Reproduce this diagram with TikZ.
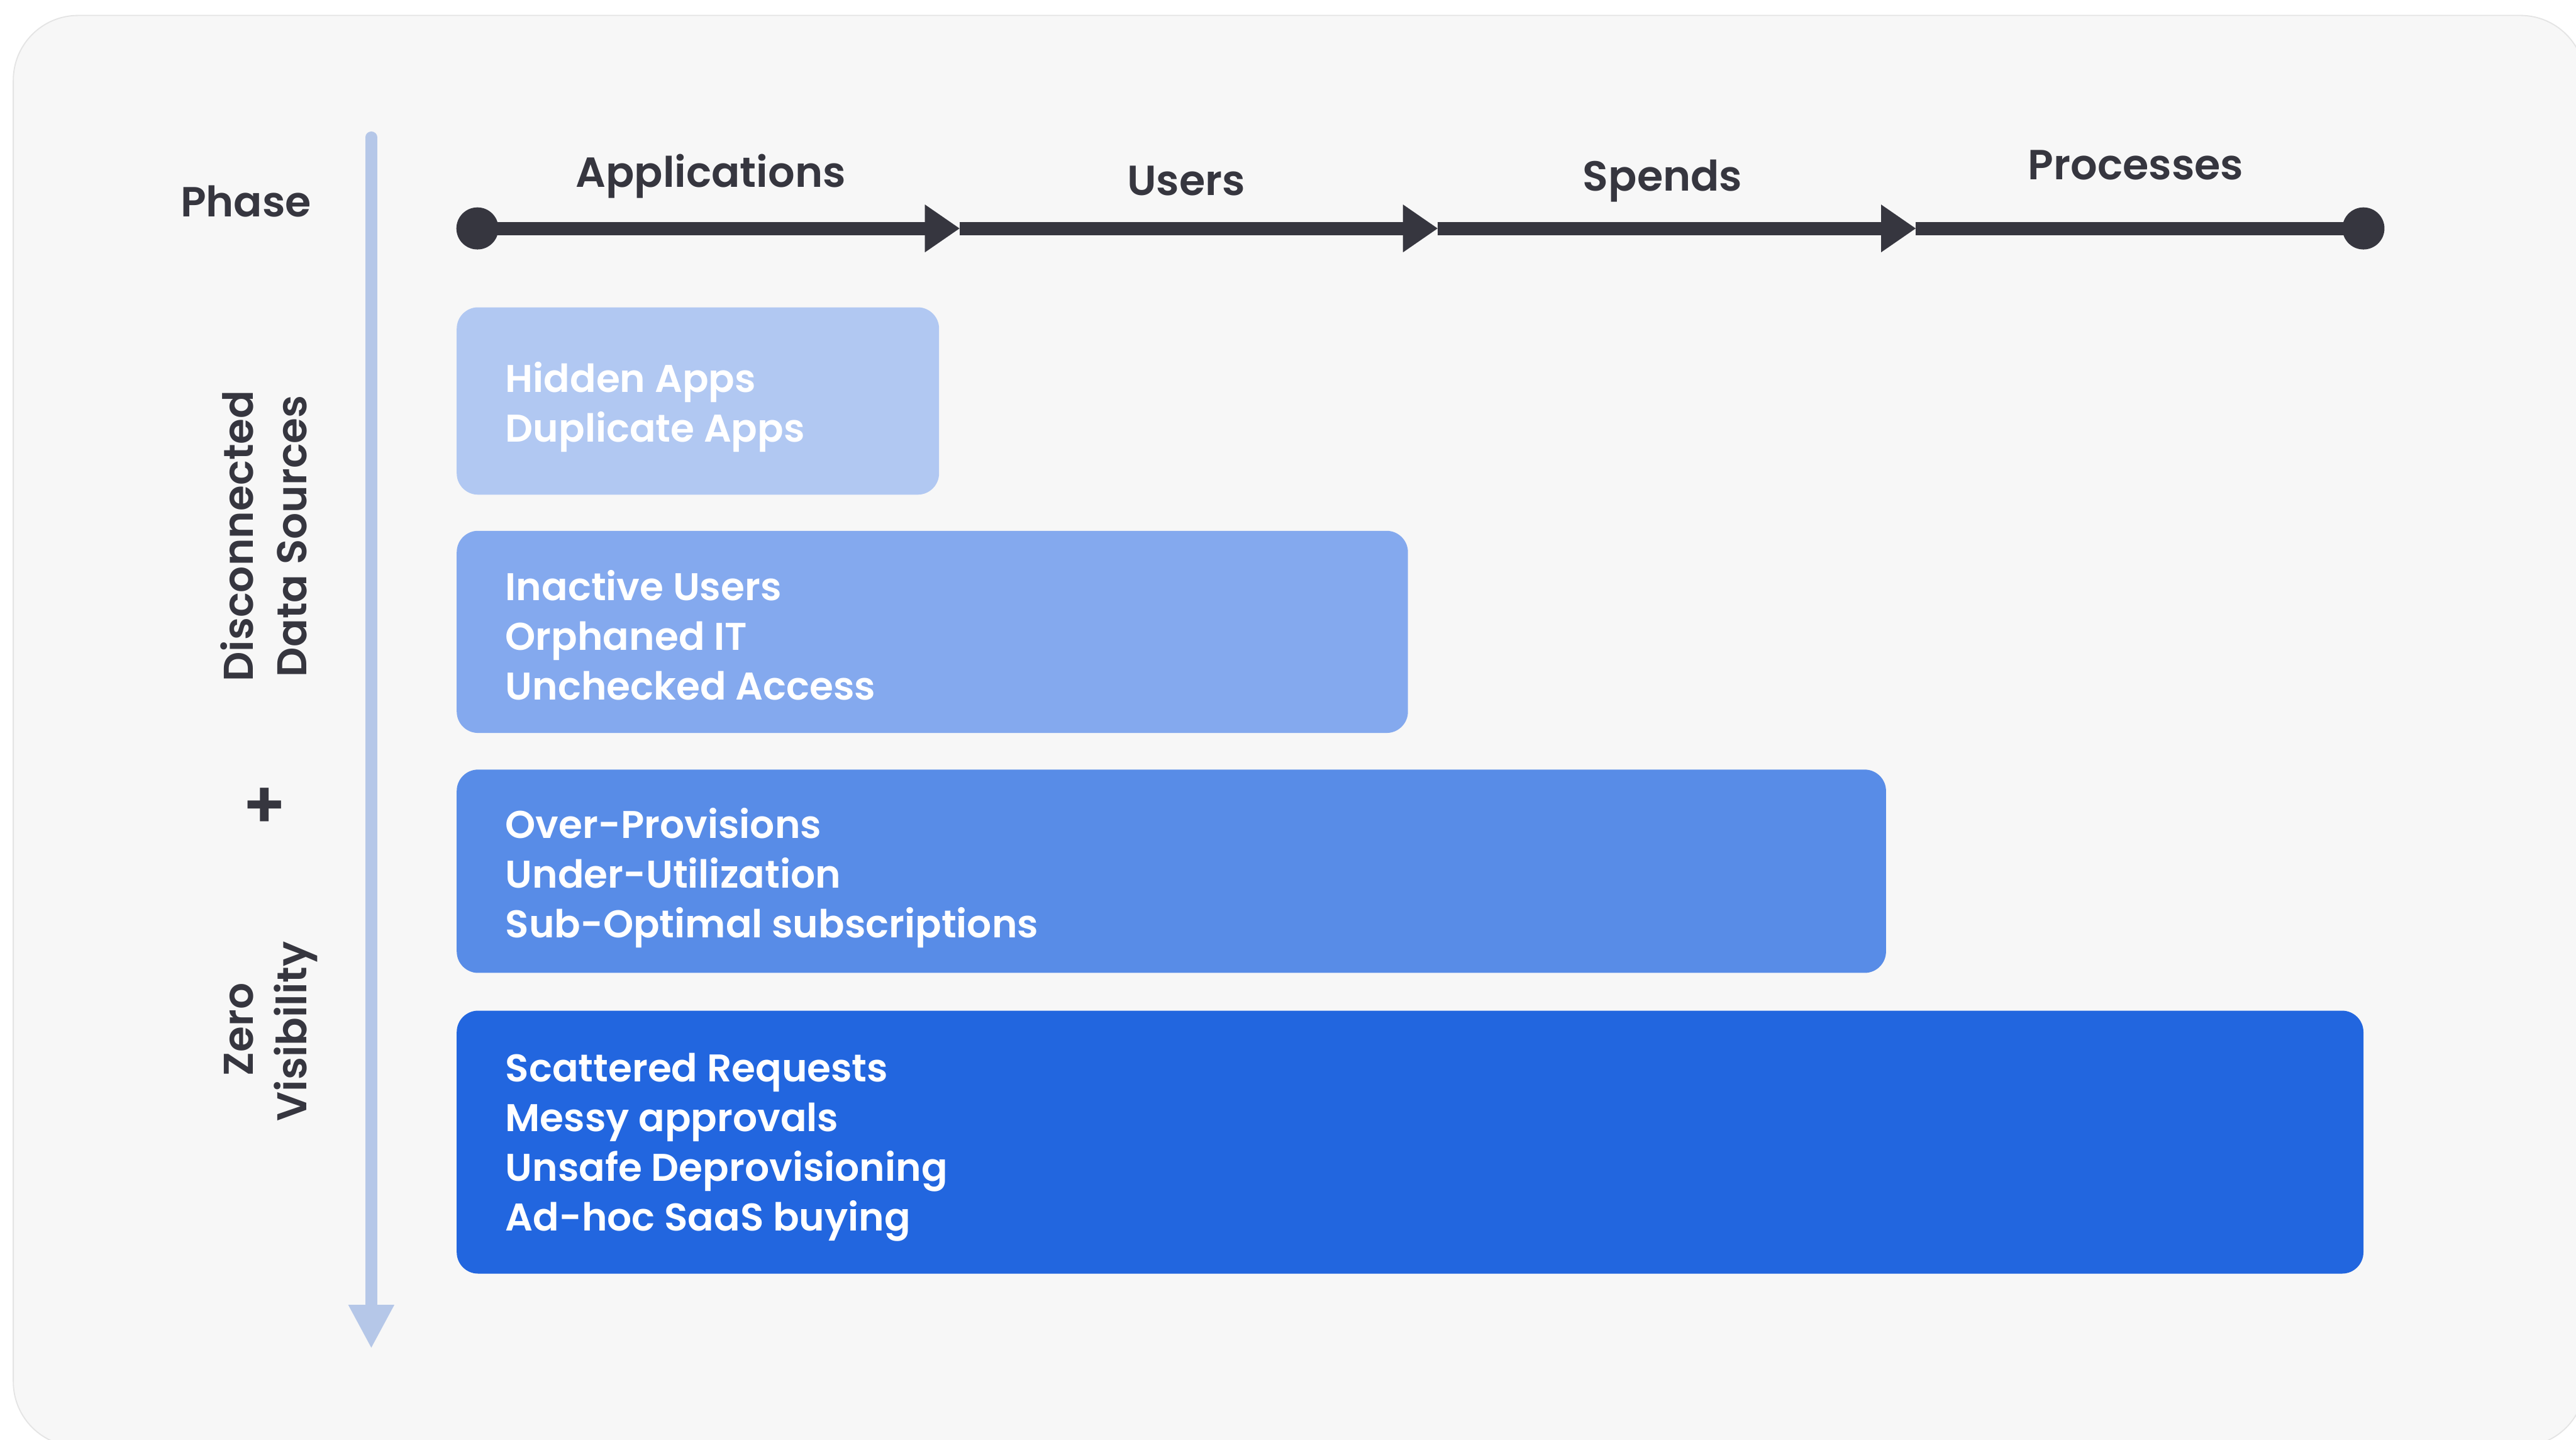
\documentclass[tikz,border=0pt]{standalone}
\usepackage{fontspec}
\setmainfont{Poppins}[BoldFont={Poppins SemiBold}]
\usetikzlibrary{arrows.meta}

\definecolor{ink}{HTML}{36363F}
\definecolor{panelfill}{HTML}{F7F7F7}
\definecolor{panelline}{HTML}{E4E4E4}
\definecolor{axisblue}{HTML}{B5C7E8}
\definecolor{tierA}{HTML}{B1C8F2}
\definecolor{tierB}{HTML}{84A9EE}
\definecolor{tierC}{HTML}{588CE7}
\definecolor{tierD}{HTML}{2266DF}

\tikzset{
  panel/.style={fill=panelfill, draw=panelline, line width=0.7pt, rounded corners=39.4pt},
  head/.style={font=\fontsize{25.6}{30}\selectfont\bfseries, text=ink, anchor=base, inner sep=0pt},
  sidelabel/.style={font=\fontsize{25.3}{30}\selectfont\bfseries, text=ink, anchor=base, inner sep=0pt, rotate=90},
  plussign/.style={font=\fontsize{40}{42}\selectfont\bfseries, text=ink, inner sep=0pt},
  dot/.style={circle, fill=ink, minimum size=25.6pt, inner sep=0pt},
  tline/.style={draw=ink, line width=8pt},
  stage/.style={-{Triangle[length=21pt,width=29pt,line width=0.01pt]}},
  axis/.style={draw=axisblue, line width=7pt, line cap=round,
    -{Triangle[length=26pt,width=28pt,line width=0.01pt]}},
  tier/.style={rectangle, rounded corners=13pt, draw=none, inner sep=0pt},
  item/.style={font=\fontsize{23.5}{30}\selectfont\bfseries, text=white, anchor=base west, inner sep=0pt},
}

\begin{document}
\begin{tikzpicture}[x=1pt,y=-1pt]
\useasboundingbox (0,0) rectangle (1568,876);

% card background
\begin{scope}
  \clip (0,0) rectangle (1568,876);
  \fill[white] (0,0) rectangle (1568,876);
  \draw[panel] (8.1,9.4) rectangle (1573.6,880.2);
\end{scope}

% vertical axis
\coordinate (vtop) at (226,83.5);
\coordinate (vbot) at (226,820);
\draw[axis] (vtop) -- (vbot);

% side labels
\node[sidelabel] (dis1) at (154,326.2) {Disconnected};
\node[sidelabel] (dis2) at (186.8,326.2) {Data Sources};
\node[plussign] (plus) at (161,491.7) {+};
\node[sidelabel] (zero1) at (154,626.5) {Zero};
\node[sidelabel] (zero2) at (186.8,627.6) {Visibility};

% phase header
\node[head] (phase) at (149.7,131.8) {Phase};
\node[head] (happ) at (432.6,113.7) {Applications};
\node[head] (husr) at (722,119) {Users};
\node[head] (hspd) at (1012,116.3) {Spends};
\node[head] (hprc) at (1300,109.3) {Processes};

% timeline
\node[dot] (t0) at (290.6,139) {};
\node[dot] (t4) at (1438.6,139) {};
\coordinate (m1) at (584,139);
\coordinate (m2) at (875,139);
\coordinate (m3) at (1166,139);
\draw[tline,stage] (t0.center) -- (m1);
\draw[tline,stage] (m1) -- (m2);
\draw[tline,stage] (m2) -- (m3);
\draw[tline] (m3) -- (t4.center);

% tiers
\node[tier, fill=tierA, minimum width=293.6pt, minimum height=114pt] (box1) at (424.8,244) {};
\node[tier, fill=tierB, minimum width=579pt, minimum height=123pt] (box2) at (567.5,384.5) {};
\node[tier, fill=tierC, minimum width=870pt, minimum height=123.7pt] (box3) at (713,530.15) {};
\node[tier, fill=tierD, minimum width=1160.6pt, minimum height=160pt] (box4) at (858.3,695) {};

\node[item] (b1a) at (307.5,238.5) {Hidden Apps};
\node[item] (b1b) at (307.5,268.8) {Duplicate Apps};

\node[item] (b2a) at (307.5,365.3) {Inactive Users};
\node[item] (b2b) at (307.5,395.5) {Orphaned IT};
\node[item] (b2c) at (307.5,425.7) {Unchecked Access};

\node[item] (b3a) at (307.5,510) {Over-Provisions};
\node[item] (b3b) at (307.5,540.2) {Under-Utilization};
\node[item] (b3c) at (307.5,570.4) {Sub-Optimal subscriptions};

\node[item] (b4a) at (307.5,658.3) {Scattered Requests};
\node[item] (b4b) at (307.5,688.5) {Messy approvals};
\node[item] (b4c) at (307.5,718.7) {Unsafe Deprovisioning};
\node[item] (b4d) at (307.5,748.8) {Ad-hoc SaaS buying};
\end{tikzpicture}
\end{document}
